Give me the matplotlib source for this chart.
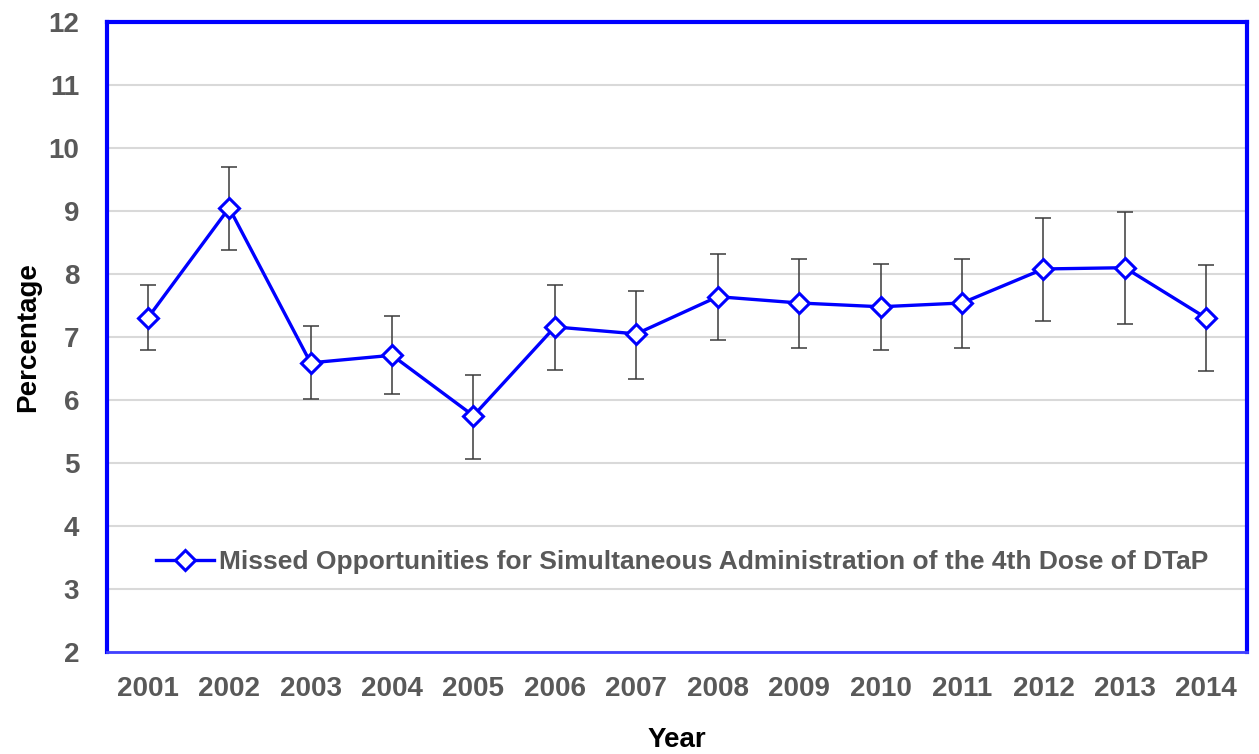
import numpy as np
import matplotlib
matplotlib.use("Agg")
from matplotlib import pyplot as plt

# data
years = ['2001', '2002', '2003', '2004', '2005', '2006', '2007',
         '2008', '2009', '2010', '2011', '2012', '2013', '2014']
pct = [7.30, 9.05, 6.59, 6.71, 5.75, 7.16, 7.05,
       7.64, 7.54, 7.48, 7.54, 8.08, 8.10, 7.30]
ci_low = [6.79, 8.38, 6.02, 6.10, 5.06, 6.48, 6.33,
          6.95, 6.83, 6.79, 6.83, 7.25, 7.21, 6.46]
ci_high = [7.83, 9.70, 7.17, 7.33, 6.40, 7.83, 7.73,
           8.32, 8.24, 8.16, 8.24, 8.89, 8.98, 8.14]

label = 'Missed Opportunities for Simultaneous Administration of the 4th Dose of DTaP'

plt.rcParams['font.family'] = ['Liberation Sans', 'DejaVu Sans']
grey = '#595959'

x = np.arange(len(years))
pct = np.array(pct)
yerr = np.vstack([pct - np.array(ci_low), np.array(ci_high) - pct])

fig = plt.figure(figsize=(12.59, 7.54), dpi=100)
ax = fig.add_axes([0.085, 0.1353, 0.9055, 0.8355])

ax.errorbar(x, pct, yerr=yerr, fmt='none', ecolor='#3a3a3a',
            elinewidth=1.1, capsize=6, capthick=1.1, zorder=2)
ax.plot(x, pct, color='#0000ff', lw=2.4, marker='D', ms=10,
        mfc='white', mec='#0000ff', mew=2.2, label=label, zorder=3)

ax.set_xlim(-0.5, len(years) - 0.5)
ax.set_ylim(2, 12)
ax.set_yticks(range(2, 13))
ax.set_xticks(x)
ax.set_xticklabels(years)
ax.yaxis.grid(True, color='#d9d9d9', lw=1.5)
ax.set_axisbelow(True)
ax.tick_params(axis='both', length=0, labelsize=20, labelcolor=grey)
ax.tick_params(axis='y', pad=20)
ax.tick_params(axis='x', pad=17)
for t in ax.get_xticklabels() + ax.get_yticklabels():
    t.set_fontweight('bold')

for side in ['left', 'top', 'right']:
    ax.spines[side].set_color('#0000ff')
    ax.spines[side].set_linewidth(3)
ax.spines['bottom'].set_color('#4040ff')
ax.spines['bottom'].set_linewidth(2)

ax.set_xlabel('Year', fontsize=20, fontweight='bold', labelpad=18)
ax.set_ylabel('Percentage', fontsize=20, fontweight='bold', labelpad=5)

ax.legend(loc='center left', bbox_to_anchor=(0.022, 0.143), frameon=False,
          labelcolor=grey, prop={'weight': 'bold', 'size': 19},
          handlelength=2.2, handletextpad=0.2)

plt.savefig('out.png', dpi=100)
